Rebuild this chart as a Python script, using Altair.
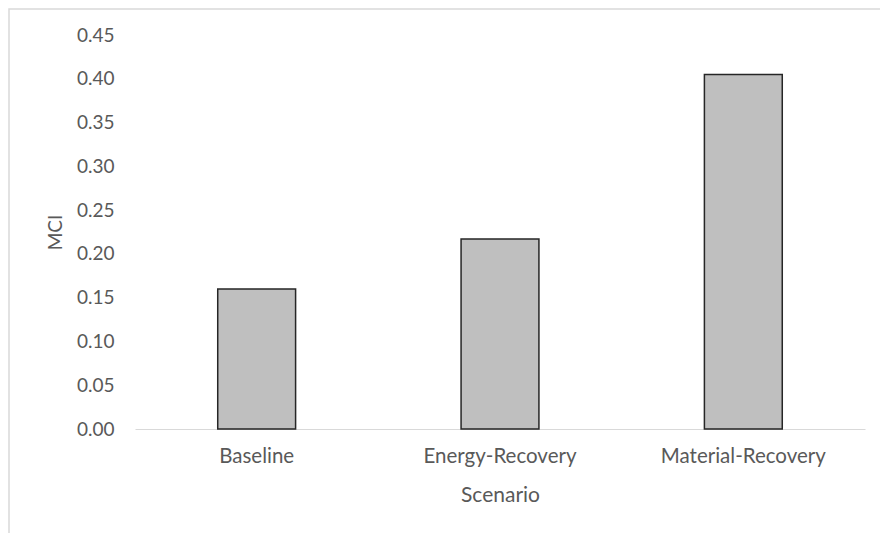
import altair as alt
import pandas as pd

# Material circularity indicator per end-of-life scenario
scenarios = ["Baseline", "Energy-Recovery", "Material-Recovery"]
mci_values = [0.160, 0.217, 0.405]
y_ticks = [0.00, 0.05, 0.10, 0.15, 0.20, 0.25, 0.30, 0.35, 0.40, 0.45]

df = pd.DataFrame({"Scenario": scenarios, "MCI": mci_values})

FONT = "Lato"
TEXT = "#595959"
PLOT_W, PLOT_H = 730, 394

bars = alt.Chart(df).mark_bar(
    color="#bfbfbf", stroke="#262626", strokeWidth=1.5
).encode(
    x=alt.X(
        "Scenario:N",
        sort=scenarios,
        scale=alt.Scale(paddingInner=0.68, paddingOuter=0.34),
        axis=alt.Axis(
            title="Scenario",
            labelAngle=0,
            ticks=False,
            tickSize=0,
            domainColor="#d9d9d9",
            domainWidth=1.2,
            labelBaseline="middle",
            labelPadding=27,
            labelFontSize=20.5,
            titleFontSize=21,
            titleBaseline="middle",
            titleY=66,
        ),
    ),
    y=alt.Y(
        "MCI:Q",
        scale=alt.Scale(domain=[0, 0.45], nice=False),
        axis=alt.Axis(
            title="MCI",
            values=y_ticks,
            format=".2f",
            grid=False,
            domain=False,
            ticks=False,
            tickSize=0,
            labelPadding=21,
            labelFontSize=19,
            titleFontSize=19,
            titleX=-80,
            titleY=PLOT_H / 2,
            titleBaseline="middle",
        ),
    ),
)

# light outer frame around the whole chart
frame = alt.Chart(pd.DataFrame({"f": [0]})).mark_rect(
    fillOpacity=0, stroke="#d9d9d9", strokeWidth=1.5, clip=False
).encode(
    x=alt.value(-126), x2=alt.value(PLOT_W + 40),
    y=alt.value(-26), y2=alt.value(PLOT_H + 140),
)

chart = alt.layer(frame, bars).properties(
    width=PLOT_W,
    height=PLOT_H,
    autosize=alt.AutoSizeParams(type="none"),
    padding={"left": 135, "top": 35, "right": 15, "bottom": 104},
    background="white",
).configure_view(
    stroke=None
).configure_axis(
    labelFont=FONT, titleFont=FONT,
    labelColor=TEXT, titleColor=TEXT,
    titleFontWeight="normal",
)

chart.save("out.html", embed_options={"renderer": "svg", "actions": False})
